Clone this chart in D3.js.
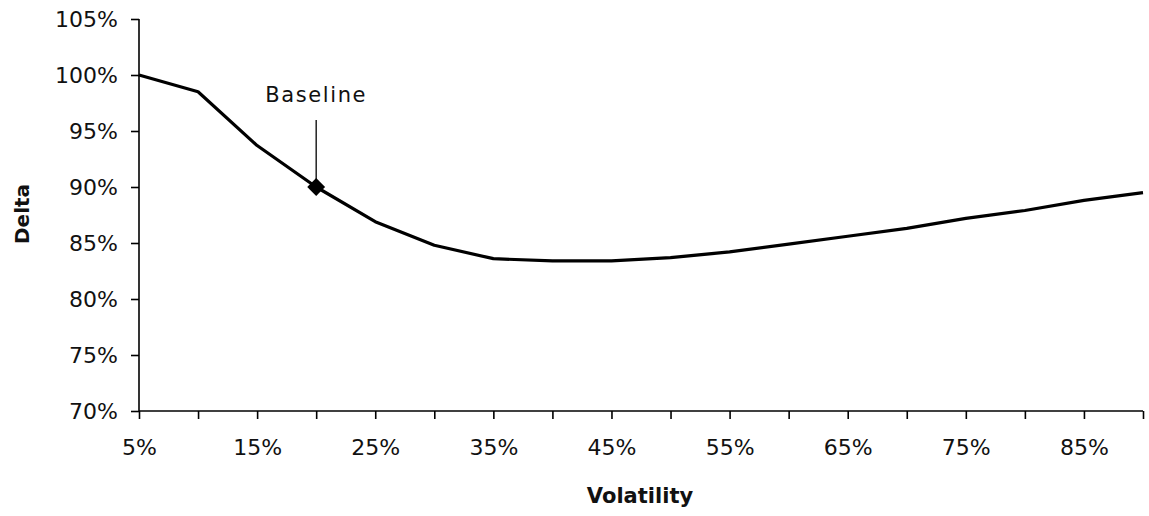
<!DOCTYPE html>
<html>
<head>
<meta charset="utf-8">
<script src="https://cdn.jsdelivr.net/npm/d3@7"></script>
<style>
  body { margin: 0; background: #fff; }
  text { font-family: "DejaVu Sans", Verdana, sans-serif; fill: #111; }
</style>
</head>
<body>
<div id="chart"></div>
<script>
// volatility (x) and delta (y) at 5% steps
const volatility = [0.05, 0.10, 0.15, 0.20, 0.25, 0.30, 0.35, 0.40, 0.45,
                    0.50, 0.55, 0.60, 0.65, 0.70, 0.75, 0.80, 0.85, 0.90];
const delta = [1.000, 0.985, 0.937, 0.900, 0.869, 0.848, 0.836, 0.834, 0.834,
               0.837, 0.842, 0.849, 0.856, 0.863, 0.872, 0.879, 0.888, 0.895];
const yTicks = [0.70, 0.75, 0.80, 0.85, 0.90, 0.95, 1.00, 1.05];
const xTicks = volatility;
const xLabels = [0.05, 0.15, 0.25, 0.35, 0.45, 0.55, 0.65, 0.75, 0.85];
const baseline = { vol: 0.20, delta: 0.90, label: "Baseline" };

const width = 1149;
const height = 516;
const margin = { left: 139, right: 6, top: 19, bottom: 105 };

const svg = d3.select("#chart")
  .append("svg")
  .attr("width", width)
  .attr("height", height);

const x = d3.scaleLinear()
  .domain([0.05, 0.90])
  .range([margin.left, width - margin.right]);

const y = d3.scaleLinear()
  .domain([0.70, 1.05])
  .range([height - margin.bottom, margin.top]);

const pct = d3.format(".0%");

// y axis
const yAxis = svg.append("g")
  .attr("transform", `translate(${margin.left},0)`)
  .call(d3.axisLeft(y).tickValues(yTicks).tickFormat(pct).tickSize(8).tickPadding(13));

// x axis: tick every 5%, label every 10%
const xAxis = svg.append("g")
  .attr("transform", `translate(0,${height - margin.bottom})`)
  .call(d3.axisBottom(x).tickValues(xTicks)
    .tickFormat(d => xLabels.some(v => Math.abs(v - d) < 1e-9) ? pct(d) : "")
    .tickSize(8).tickPadding(20));

[yAxis, xAxis].forEach(g => {
  g.select(".domain").attr("stroke", "#000").attr("stroke-width", 1.6);
  g.selectAll(".tick line").attr("stroke", "#000").attr("stroke-width", 1.6);
  g.selectAll(".tick text")
    .attr("font-family", "DejaVu Sans, Verdana, sans-serif")
    .attr("font-size", 22)
    .attr("fill", "#1a1a1a");
});
// the axis domains draw outer ticks, keep them plain
yAxis.select(".domain").attr("d", `M0,${y(1.05)}V${y(0.70)}`);
xAxis.select(".domain").attr("d", `M${x(0.05)},0H${x(0.90)}`);

// curve
const line = d3.line()
  .x((d, i) => x(volatility[i]))
  .y(d => y(d));

svg.append("path")
  .datum(delta)
  .attr("fill", "none")
  .attr("stroke", "#000")
  .attr("stroke-width", 3.2)
  .attr("stroke-linejoin", "round")
  .attr("d", line);

// baseline annotation
const bx = x(baseline.vol);
const by = y(baseline.delta);

svg.append("line")
  .attr("x1", bx).attr("x2", bx)
  .attr("y1", 120).attr("y2", by - 6)
  .attr("stroke", "#000")
  .attr("stroke-width", 1.3);

svg.append("path")
  .attr("d", d3.symbol().type(d3.symbolSquare).size(160)())
  .attr("transform", `translate(${bx},${by}) rotate(45)`)
  .attr("fill", "#000");

svg.append("text")
  .attr("x", bx)
  .attr("y", 102)
  .attr("text-anchor", "middle")
  .attr("font-size", 21)
  .attr("letter-spacing", 1.6)
  .text(baseline.label);

// axis titles
svg.append("text")
  .attr("x", 640)
  .attr("y", 503)
  .attr("text-anchor", "middle")
  .attr("font-size", 21)
  .attr("font-weight", "bold")
  .text("Volatility");

svg.append("text")
  .attr("transform", "translate(29,214) rotate(-90)")
  .attr("text-anchor", "middle")
  .attr("font-size", 20)
  .attr("font-weight", "bold")
  .text("Delta");
</script>
</body>
</html>
